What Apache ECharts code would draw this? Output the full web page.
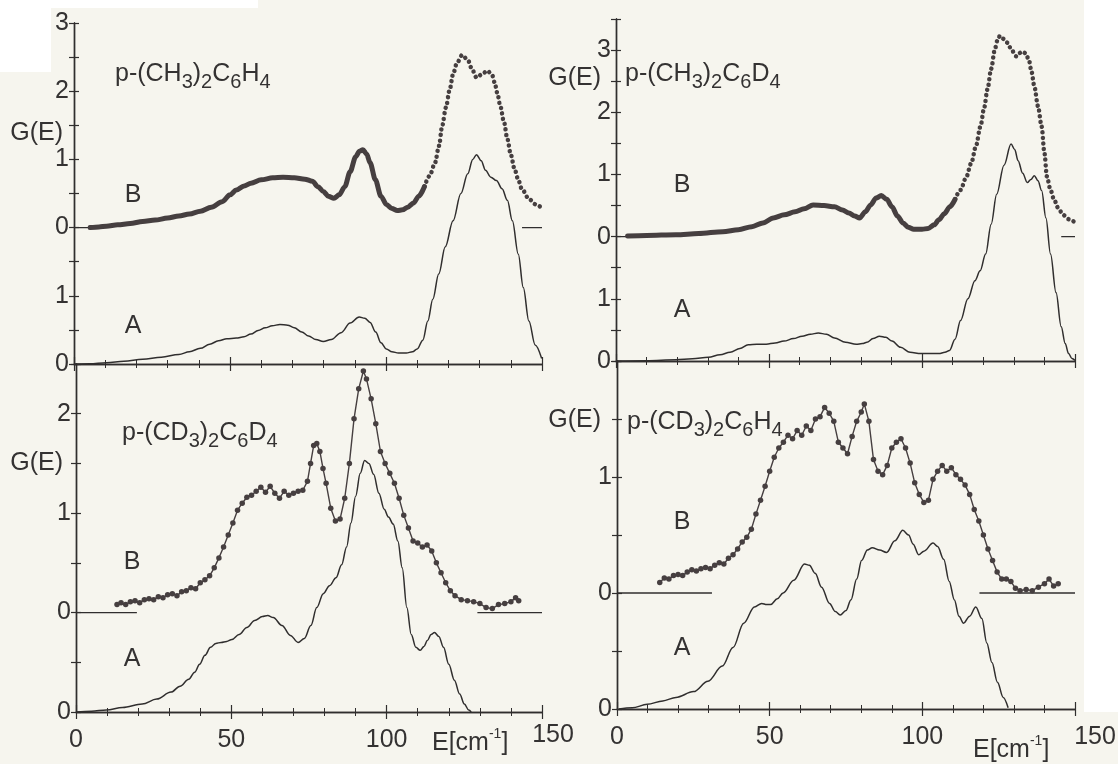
<!DOCTYPE html>
<html><head><meta charset="utf-8">
<script src="https://cdn.jsdelivr.net/npm/echarts@6/dist/echarts.min.js"></script>
<style>html,body{margin:0;padding:0;background:#f6f5ee}#c{width:1118px;height:764px}</style>
</head><body><div id="c"></div><script>
// ---------------- DATA ----------------
// x axis: E [cm^-1]
const xTickValues = [0, 50, 100];
const xTickText = ['0', '50', '100'];

// Panel 1: p-(CH3)2C6H4 (top left)
const p1Title = 'p-(CH{s|3}){s|2}C{s|6}H{s|4}';
const p1YTickAt = [0, 1, 2, 3, 4, 5];
const p1YTickText = ['0', '1', '0', '1', '2', '3'];
const p1BOffset = 2;
const p1AE = [0,5,10.4,16,22,28,33.6,37,40.5,43.5,46.3,49,52,54.5,56.7,59,61.3,63.5,66,68.5,70.6,73,75.2,77.5,79.9,82.5,85.6,88.5,91.4,93.2,94.9,96.7,98.4,100.1,101.9,104,106.5,108.5,110,111.8,113.4,115,116.9,119,121.5,124,126.2,127.8,129,130.5,131.9,133.6,135.4,137.2,138.9,140.5,142.4,144,145.8,147.8,149.9];
const p1AG = [0,0.005,0.02,0.04,0.07,0.10,0.14,0.18,0.23,0.29,0.34,0.37,0.38,0.40,0.44,0.49,0.53,0.56,0.58,0.57,0.53,0.47,0.41,0.36,0.33,0.36,0.46,0.60,0.69,0.67,0.61,0.47,0.31,0.22,0.18,0.16,0.16,0.18,0.22,0.35,0.63,0.95,1.32,1.72,2.10,2.50,2.79,3.00,3.07,2.98,2.84,2.74,2.69,2.57,2.40,2.10,1.61,1.12,0.63,0.28,0.08];
const p1BE = [5.2,8,10.4,14,18,22,26,30,33.6,37,40.5,44,47.5,50,52,54.5,56.7,60,63.7,67,70.6,74,76.4,78.2,79.9,81.5,83.3,85,86.8,88.5,90.3,91.5,92.6,93.8,94.9,96.6,98.4,100.1,101.9,103.6,105.3,107,108.8,110.5,112.3,114,115.7,117,118,119.2,120.4,121.5,122.7,124.4,126.2,127.6,129,130.8,132.5,134,134.8,135.7,136.6,137.8,138.9,140,141.2,142.4,143.5,145.8,148,149.9];
const p1BG = [0,0.01,0.02,0.04,0.06,0.09,0.11,0.14,0.17,0.20,0.24,0.30,0.38,0.48,0.55,0.61,0.65,0.70,0.73,0.74,0.73,0.71,0.68,0.60,0.53,0.46,0.43,0.48,0.60,0.82,1.04,1.12,1.14,1.08,0.95,0.70,0.46,0.34,0.28,0.25,0.26,0.30,0.36,0.46,0.60,0.76,0.95,1.20,1.49,1.76,2.02,2.25,2.41,2.53,2.46,2.32,2.20,2.25,2.30,2.24,2.13,1.97,1.79,1.55,1.30,1.07,0.86,0.70,0.57,0.42,0.34,0.29];
const p1BZeroLeft = [0, 5.2];
const p1BZeroRight = [143.6, 150];

// Panel 2: p-(CH3)2C6D4 (top right)
const p2Title = 'p-(CH{s|3}){s|2}C{s|6}D{s|4}';
const p2YTickAt = [0, 1, 2, 3, 4, 5];
const p2YTickText = ['0', '1', '0', '1', '2', '3'];
const p2BOffset = 2;
const p2AE = [0,10,19.6,25,30.2,34,37.3,40.5,43.2,46,49.1,52,54.9,58,60.8,63.5,66.1,68.8,71.4,75,78.5,80.5,82,84,86.1,88.2,90.2,93,96.1,99.6,103,105.5,107.5,109,110.8,112.6,115,117.3,119,120.8,122.6,124.4,126.8,129.1,130.3,131.4,132.9,134.4,135.6,136.7,137.9,139.1,140.5,142,143.8,145.5,146.8,147.9,149,150];
const p2AG = [0,0.005,0.02,0.035,0.06,0.10,0.14,0.20,0.26,0.27,0.27,0.29,0.32,0.36,0.40,0.43,0.45,0.43,0.37,0.30,0.27,0.28,0.30,0.36,0.40,0.38,0.32,0.22,0.14,0.12,0.12,0.12,0.14,0.17,0.35,0.65,1.00,1.29,1.45,1.72,2.20,2.68,3.15,3.49,3.40,3.22,3.02,2.87,2.92,2.98,2.90,2.74,2.30,1.72,1.10,0.55,0.28,0.12,0.04,0.01];
const p2BE = [3.8,10,19.6,27,34.9,40,44.4,48,51.4,55,58.5,61.5,64.4,68,71.4,74,76.1,78,79.6,81.5,83.2,85,86.7,88.5,90.2,92,93.8,95.5,97.3,100,102,104,105.5,107.3,109.1,110.8,112.6,114.4,116.1,117.6,119.1,120.3,121.4,122.6,123.8,124.6,125.5,126.7,127.9,129.3,130.8,131.8,132.8,133.8,134.9,135.8,136.7,137.9,139.1,140,140.8,142,143.2,144.6,146.1,148,150];
const p2BG = [0.01,0.02,0.03,0.05,0.08,0.11,0.16,0.22,0.30,0.35,0.40,0.45,0.51,0.50,0.48,0.43,0.38,0.33,0.30,0.40,0.51,0.62,0.66,0.60,0.48,0.33,0.22,0.15,0.12,0.12,0.13,0.19,0.27,0.37,0.48,0.60,0.75,0.95,1.18,1.45,1.77,2.07,2.37,2.70,3.01,3.15,3.23,3.18,3.12,3.00,2.90,2.95,2.98,2.95,2.85,2.65,2.42,2.10,1.77,1.35,0.97,0.75,0.59,0.45,0.35,0.28,0.23];
const p2BZeroLeft = [0, 3.8];
const p2BZeroRight = [145.5, 150];

// Panel 3: p-(CD3)2C6D4 (bottom left)
const p3Title = 'p-(CD{s|3}){s|2}C{s|6}D{s|4}';
const p3YTickAt = [0, 1, 2, 3];
const p3YTickText = ['0', '0', '1', '2'];
const p3BOffset = 1;
const p3AE = [0,5,9.8,15,21.3,26,30.6,33.5,36.3,38.2,39.8,41.5,43.3,45,46.7,48.5,50.2,52.5,55,57.5,60,61.7,63.5,66.3,69,71.5,73.5,75.6,77.5,79.6,81.6,83.7,85.5,87.1,88.5,90,91.5,92.9,94.3,95.8,97.5,99.2,100.6,102.1,103.6,105,106.5,107.9,109.4,110.8,112,113.1,114.3,115.4,116.8,118.3,120,121.8,123.5,125,126.4,127.2];
const p3AG = [0,0.008,0.02,0.045,0.08,0.13,0.20,0.26,0.33,0.40,0.48,0.57,0.65,0.69,0.70,0.71,0.73,0.78,0.85,0.92,0.96,0.97,0.95,0.87,0.77,0.70,0.74,0.87,1.05,1.19,1.27,1.35,1.48,1.66,1.90,2.17,2.40,2.53,2.50,2.39,2.20,2.04,1.96,1.89,1.72,1.45,1.05,0.78,0.65,0.62,0.66,0.72,0.78,0.80,0.76,0.65,0.48,0.32,0.18,0.08,0.02,0];
const p3BE = [13.2,14.5,16,17.5,19,20.5,22,23.5,25,26.5,28,29.5,31,32.5,34,35.5,37,38.5,40,41.5,43,44.5,46,47.5,49,50.5,52,53.5,55,56.5,58,59.5,61,62.5,64,65.5,67,68.5,70,71.5,73,74.5,75.5,76.5,77.5,78.5,79.5,80.5,82,83.5,85,86.5,88,89.5,91,92.5,93.5,95,96.5,98,99.5,101,102.5,104,105.5,107,108.5,110,111.5,113,114.5,116,117.5,119,120.5,122,124,126,128,130,132,134,136,138,140,141.5,142.5];
const p3BG = [0.08,0.10,0.08,0.11,0.12,0.10,0.13,0.14,0.13,0.16,0.15,0.18,0.19,0.17,0.21,0.22,0.25,0.24,0.30,0.33,0.37,0.45,0.55,0.66,0.78,0.90,1.03,1.10,1.16,1.18,1.22,1.26,1.21,1.27,1.20,1.15,1.22,1.18,1.20,1.22,1.23,1.32,1.50,1.68,1.70,1.62,1.45,1.30,1.05,0.92,0.94,1.15,1.50,1.95,2.25,2.43,2.35,2.15,1.90,1.62,1.50,1.40,1.30,1.15,0.98,0.85,0.72,0.70,0.66,0.68,0.62,0.50,0.40,0.30,0.22,0.17,0.13,0.12,0.11,0.09,0.05,0.04,0.08,0.09,0.11,0.15,0.12];
const p3BZeroLeft = [0, 19.6];
const p3BZeroRight = [129.2, 150];

// Panel 4: p-(CD3)2C6H4 (bottom right)
const p4Title = 'p-(CD{s|3}){s|2}C{s|6}H{s|4}';
const p4YTickAt = [0, 1, 2];
const p4YTickText = ['0', '0', '1'];
const p4BOffset = 1;
const p4AE = [0.6,5,9.9,15,19.3,25.1,29.8,34.5,38,41.5,45,47.4,49,50.3,52.5,54.4,57.9,61.4,63,64.9,67,69.6,71.5,73.1,75,76.6,78.5,80.1,82,83.6,86,88.3,91,93.6,95.5,97,98.8,100.5,103.5,105,107,108.8,110.5,112,113.5,115.5,117.5,119.5,121.1,122.8,124.6,126.5,128.1];
const p4AG = [0,0.01,0.04,0.07,0.10,0.15,0.24,0.37,0.53,0.74,0.88,0.91,0.90,0.90,0.95,1.00,1.11,1.25,1.24,1.17,1.05,0.91,0.84,0.81,0.85,0.94,1.12,1.28,1.37,1.39,1.37,1.35,1.45,1.54,1.50,1.42,1.33,1.36,1.43,1.40,1.29,1.10,0.94,0.80,0.74,0.80,0.88,0.78,0.57,0.40,0.23,0.10,0.01];
const p4BE = [14,15.5,17,18.5,20,21.5,23,24.5,26,27.5,29,30.5,32,33.5,35,36.5,38,39.5,41,42.5,44,45.5,47,48.5,50,51.5,53,54.5,56,57.5,59,60.5,62,63.5,65,66.5,68,69.5,71,72.5,74,75.5,77,78.5,80,81,82.5,84,85.5,87,88.5,90,91.5,93,94.5,96,97.5,99,100.5,102,103.5,105,106.5,108,109.5,111,112.5,114,115.5,117,118.5,120,121.5,123,124.5,126,127.5,129,130.5,132,134,136,138,140,141.5,143,144.5];
const p4BG = [0.09,0.13,0.12,0.15,0.16,0.15,0.18,0.20,0.19,0.21,0.22,0.21,0.24,0.26,0.25,0.30,0.33,0.38,0.44,0.48,0.55,0.68,0.80,0.92,1.05,1.17,1.25,1.30,1.36,1.33,1.40,1.36,1.44,1.40,1.50,1.52,1.60,1.55,1.48,1.30,1.25,1.20,1.35,1.48,1.56,1.63,1.48,1.15,1.05,1.02,1.10,1.25,1.30,1.33,1.25,1.12,0.95,0.85,0.78,0.80,0.98,1.05,1.10,1.05,1.08,1.02,0.98,0.93,0.85,0.72,0.62,0.50,0.38,0.28,0.18,0.12,0.12,0.10,0.04,0.02,0.03,0.02,0.05,0.08,0.12,0.06,0.08];
const p4BZeroLeft = [0, 31.1];
const p4BZeroRight = [118.7, 150];

// ---------------- STYLE / LAYOUT ----------------
const FONT = '"Liberation Sans", Arial, sans-serif';
const INK = '#343232';
const LINE = '#302e2e';
const DOT = '#463f40';

const panels = [
  {grid:{left:74, top:23, width:468, height:341}, ymax:5, tickAt:p1YTickAt, tickText:p1YTickText, showX:false,
   AE:p1AE, AG:p1AG, BE:p1BE, BG:p1BG, off:p1BOffset, zl:p1BZeroLeft, zr:p1BZeroRight, style:'dense', split:113},
  {grid:{left:616, top:19, width:459, height:342}, ymax:5.5, tickAt:p2YTickAt, tickText:p2YTickText, showX:false,
   AE:p2AE, AG:p2AG, BE:p2BE, BG:p2BG, off:p2BOffset, zl:p2BZeroLeft, zr:p2BZeroRight, style:'dense', split:112},
  {grid:{left:76, top:364, width:466, height:348}, ymax:3.5, tickAt:p3YTickAt, tickText:p3YTickText, showX:true,
   AE:p3AE, AG:p3AG, BE:p3BE, BG:p3BG, off:p3BOffset, zl:p3BZeroLeft, zr:p3BZeroRight, style:'scatter'},
  {grid:{left:617, top:361, width:458, height:348}, ymax:3, tickAt:p4YTickAt, tickText:p4YTickText, showX:true,
   AE:p4AE, AG:p4AG, BE:p4BE, BG:p4BG, off:p4BOffset, zl:p4BZeroLeft, zr:p4BZeroRight, style:'scatter'}
];

const grids = [], xAxes = [], yAxes = [], series = [];
const axLine = {lineStyle:{color:LINE, width:1.4}};
panels.forEach((p, i) => {
  grids.push(Object.assign({containLabel:false}, p.grid));
  const xBase = {gridIndex:i, type:'value', min:0, max:150, interval:50,
    axisLine:axLine, splitLine:{show:false},
    axisTick:{inside:true, length:7, lineStyle:{color:LINE, width:1.2}},
    minorTick:{show:true, splitNumber:5, length:4, lineStyle:{color:LINE, width:1}}};
  xAxes.push(Object.assign({}, xBase, {position:'bottom',
    axisLabel:{show:p.showX, fontSize:25, fontFamily:FONT, color:INK, margin:16,
      formatter:v => { const k = xTickValues.indexOf(v); return k >= 0 ? xTickText[k] : ''; }}}));
  xAxes.push(Object.assign({}, xBase, {position:'top', axisLabel:{show:false}}));
  const yBase = {gridIndex:i, type:'value', min:0, max:p.ymax, interval:0.5,
    axisLine:axLine, splitLine:{show:false},
    axisTick:{inside:true, length:5, lineStyle:{color:LINE, width:1.2}}};
  yAxes.push(Object.assign({}, yBase, {position:'left',
    axisLabel:{fontSize:25, fontFamily:FONT, color:INK, margin:5,
      formatter:v => { const k = p.tickAt.indexOf(v); return k >= 0 ? p.tickText[k] : ''; }}}));
  yAxes.push(Object.assign({}, yBase, {position:'right', axisLabel:{show:false}}));

  const xi = 2 * i, yi = 2 * i;
  // Curve A (solid line)
  series.push({type:'line', xAxisIndex:xi, yAxisIndex:yi, showSymbol:false, smooth:0.35, smoothMonotone:'x',
    data:p.AE.map((e, k) => [e, p.AG[k]]),
    lineStyle:{color:LINE, width:1.5}, z:3});
  // zero line segments of curve B
  [p.zl, p.zr].forEach(seg => series.push({type:'line', xAxisIndex:xi, yAxisIndex:yi, showSymbol:false,
    data:[[seg[0], p.off], [seg[1], p.off]], lineStyle:{color:LINE, width:1.3}, z:3}));
  // Curve B (data points)
  const B = p.BE.map((e, k) => [e, p.BG[k] + p.off]);
  if (p.style === 'dense') {
    const dense = B.filter(d => d[0] <= p.split);
    series.push({type:'line', xAxisIndex:xi, yAxisIndex:yi, showSymbol:false, smooth:0.3, smoothMonotone:'x',
      data:dense, lineStyle:{color:DOT, width:5, cap:'round', join:'round'}, z:4});
    series.push({type:'line', xAxisIndex:xi, yAxisIndex:yi, showSymbol:false, smooth:0.3, smoothMonotone:'x',
      data:dense.slice(-1).concat(B.filter(d => d[0] > p.split)),
      lineStyle:{color:DOT, width:4.5, type:[0.01, 5.5], cap:'round'}, z:4});
  } else {
    series.push({type:'line', xAxisIndex:xi, yAxisIndex:yi, showSymbol:true, showAllSymbol:true,
      symbol:'circle', symbolSize:5.5, data:B,
      itemStyle:{color:DOT}, lineStyle:{color:DOT, width:1.4}, z:4});
  }
});

// ---------------- TEXT ----------------
const subRich = {s:{fontSize:20, fontFamily:FONT, fill:INK, lineHeight:20, verticalAlign:'bottom'},
                 sup:{fontSize:14, fontFamily:FONT, fill:INK, lineHeight:14, verticalAlign:'top'}};
function txt(x, y, text, align, lh) {
  return {type:'text', x:x, y:y, z:100, silent:true,
    style:{text:text, fontSize:25, fontFamily:FONT, fill:INK, lineHeight:lh || 32,
      align:align, textAlign:align, verticalAlign:'middle', textVerticalAlign:'middle', rich:subRich}};
}
const graphics = [
  {type:'rect', shape:{x:0, y:0, width:258, height:8}, style:{fill:'#ffffff'}, z:-10, silent:true},
  {type:'rect', shape:{x:0, y:0, width:51, height:72}, style:{fill:'#ffffff'}, z:-10, silent:true},
  {type:'rect', shape:{x:1084, y:0, width:34, height:712}, style:{fill:'#ffffff'}, z:-10, silent:true},
  txt(63, 133, 'G(E)', 'right'),
  txt(601, 78, 'G(E)', 'right'),
  txt(63, 463, 'G(E)', 'right'),
  txt(601, 420, 'G(E)', 'right'),
  txt(115, 74, p1Title, 'left', 36),
  txt(625, 74, p2Title, 'left', 36),
  txt(122, 433, p3Title, 'left', 36),
  txt(627, 422, p4Title, 'left', 36),
  txt(133, 195, 'B', 'center'), txt(133, 326, 'A', 'center'),
  txt(682, 185, 'B', 'center'), txt(682, 310, 'A', 'center'),
  txt(132, 562, 'B', 'center'), txt(132, 659, 'A', 'center'),
  txt(682, 522, 'B', 'center'), txt(682, 648, 'A', 'center'),
  txt(432, 743, 'E[cm{sup|-1}]', 'left'),
  txt(553, 735, '150', 'center'),
  txt(973, 750, 'E[cm{sup|-1}]', 'left'),
  txt(1095, 737, '150', 'center')
];

const chart = echarts.init(document.getElementById('c'), null, {renderer:'canvas'});
chart.setOption({
  backgroundColor:'#f6f5ee',
  animation:false,
  grid:grids, xAxis:xAxes, yAxis:yAxes, series:series,
  graphic:{elements:graphics}
});
</script></body></html>
